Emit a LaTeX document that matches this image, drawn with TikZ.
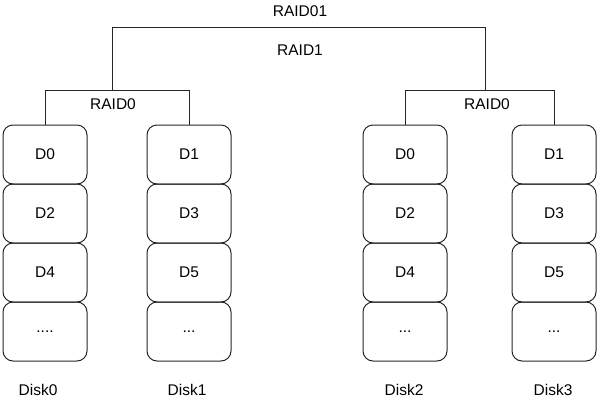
\documentclass[tikz,border=0pt]{standalone}
\usepackage{fontspec}
\setmainfont{Liberation Sans}
\begin{document}
\begin{tikzpicture}[x=1pt,y=-1pt,
  blk/.style={draw=black!85, line width=1pt, rounded corners=10pt, minimum width=84pt, minimum height=59pt, inner sep=0pt, font=\fontsize{15.5}{18}\selectfont},
  lbl/.style={font=\fontsize{15.5}{18}\selectfont, inner sep=0pt},
  ln/.style={draw=black!85, line width=1pt}]
\useasboundingbox (0,0) rectangle (600,400);
% column A (Disk0)
\node[blk] (a0) at (45,154.5) {D0};
\node[blk] (a1) at (45,213.5) {D2};
\node[blk] (a2) at (45,272.5) {D4};
\node[blk] (a3) at (45,331.5) {....};
% column B (Disk1)
\node[blk] (b0) at (189,154.5) {D1};
\node[blk] (b1) at (189,213.5) {D3};
\node[blk] (b2) at (189,272.5) {D5};
\node[blk] (b3) at (189,331.5) {...};
% column C (Disk2)
\node[blk] (c0) at (405,154.5) {D0};
\node[blk] (c1) at (405,213.5) {D2};
\node[blk] (c2) at (405,272.5) {D4};
\node[blk] (c3) at (405,331.5) {...};
% column D (Disk3)
\node[blk] (d0) at (554,154.5) {D1};
\node[blk] (d1) at (554,213.5) {D3};
\node[blk] (d2) at (554,272.5) {D5};
\node[blk] (d3) at (554,331.5) {...};
% disk labels
\node[lbl] (k0) at (38,390) {Disk0};
\node[lbl] (k1) at (187,390) {Disk1};
\node[lbl] (k2) at (404,390) {Disk2};
\node[lbl] (k3) at (553,390) {Disk3};
% RAID labels
\node[lbl] (r01) at (300,11) {RAID01};
\node[lbl] (r1) at (300,50) {RAID1};
\node[lbl] (r0l) at (113,104) {RAID0};
\node[lbl] (r0r) at (487,104) {RAID0};
% connectors
\coordinate (jl) at (112,90.5);
\coordinate (jr) at (485,90.5);
\coordinate (tl) at (112,27);
\coordinate (tr) at (485,27);
\draw[ln] (a0.north) |- (jl) -| (b0.north);
\draw[ln] (c0.north) |- (jr) -| (d0.north);
\draw[ln] (jl) -- (tl) -- (tr) -- (jr);
\end{tikzpicture}
\end{document}
